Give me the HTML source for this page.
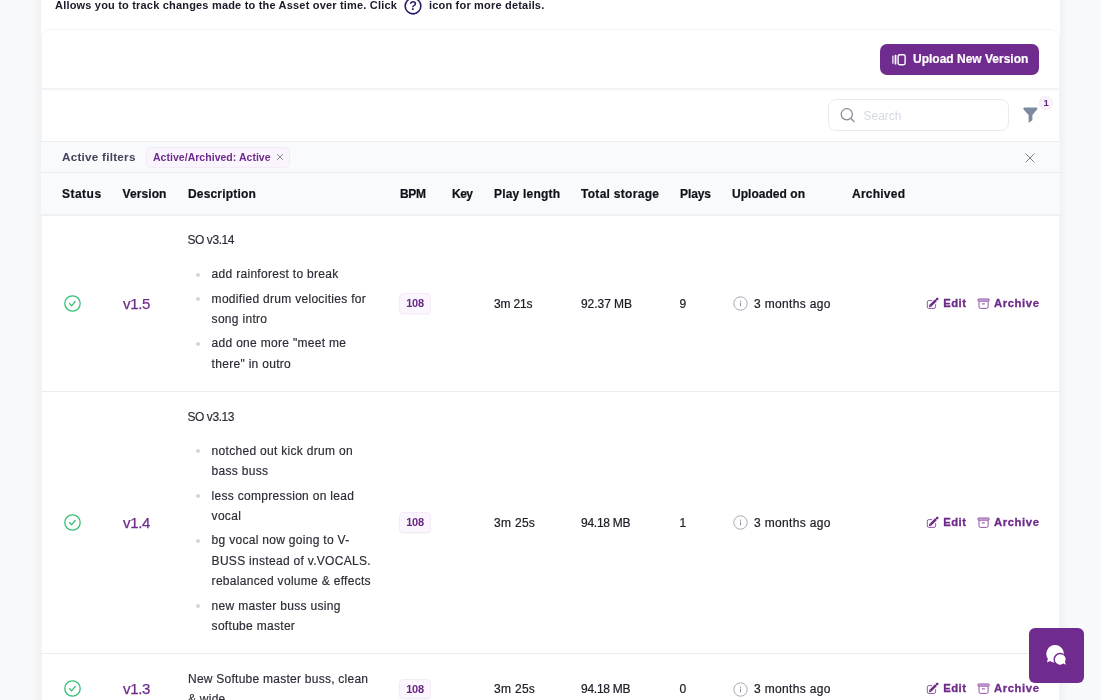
<!DOCTYPE html>
<html lang="en">
<head>
<meta charset="utf-8">
<title>Asset versions</title>
<style>
*{box-sizing:border-box}
html,body{margin:0;padding:0}
body{width:1101px;height:700px;overflow:hidden;position:relative;background:#f8f9fb;
  font-family:"Liberation Sans",sans-serif;font-size:12px;color:#24242e;line-height:20.4px}
.abs{position:absolute}
.panel{position:absolute;left:41px;top:-20px;width:1019px;height:760px;background:#fff;box-shadow:0 0 9px 1px rgba(60,64,76,.07)}
.in{position:absolute;left:0;top:20px;width:1019px;height:700px;will-change:transform}
.card{position:absolute;left:0;top:29px;width:1019px;height:700px;border:1px solid #f3f4f6;border-radius:9px 9px 0 0}
.hl{position:absolute;left:0;width:1019px;height:1px;background:#ececef}
.hl2{height:2px;background:#f3f3f5}
.band{position:absolute;left:0;width:1019px;background:#f9fafc}
.t{position:absolute;white-space:nowrap;line-height:14px;height:14px;margin-top:-7px}
.b{font-weight:700}
.c{color:#1c1c26;-webkit-text-stroke:.22px #1c1c26}
.intro{font-size:11px;font-weight:700;color:#1a1a28;letter-spacing:.19px}
.th{font-size:12px;font-weight:700;color:#111119;-webkit-text-stroke:.2px #111119;top:194px}
.pur{color:#7a2c8f}
.ver{font-size:15px;color:#6e2a8a;-webkit-text-stroke:.25px #6e2a8a;letter-spacing:-.35px;line-height:18px;height:18px;margin-top:-8.9px}
.chip{position:absolute;left:358.3px;width:31.6px;height:20.3px;margin-top:-10.3px;border:1px solid #f3ecf6;background:#fbf6fd;border-radius:4px;
  font-size:11px;font-weight:700;color:#672683;text-align:center;line-height:18.6px;letter-spacing:-.2px;box-shadow:0 1px 1px rgba(90,40,110,.04)}
.desc{position:absolute;left:147px;width:200px;color:#2c2c38;-webkit-text-stroke:.18px #2c2c38}
.desc p{margin:0 0 13.9px -.6px;letter-spacing:-.42px}
.desc ul{margin:0;padding:0;list-style:none}
.desc li{position:relative;padding-left:23.6px;margin:0 0 4px 0;letter-spacing:.3px}
.desc li:before{content:"";position:absolute;left:8px;top:8.5px;width:4px;height:4px;border-radius:50%;background:#d4d5d9}
.act{font-size:11.3px;font-weight:700;color:#6e2a8a;-webkit-text-stroke:.3px #6e2a8a;margin-top:-7.9px}
svg{position:absolute;overflow:visible}
</style>
</head>
<body>
<div class="panel"><div class="in">
  <div class="card"></div>

  <!-- intro line -->
  <div class="t intro" style="left:14px;top:5px">Allows you to track changes made to the Asset over time. Click</div>
  <svg style="left:362.8px;top:-3.3px" width="18" height="18" viewBox="0 0 18 18"><circle cx="9" cy="9" r="7.85" fill="none" stroke="#2b1866" stroke-width="1.6"/><text x="9" y="13.3" text-anchor="middle" font-family="Liberation Sans, sans-serif" font-size="12.5" font-weight="700" fill="#2b1866">?</text></svg>
  <div class="t intro" style="left:388px;top:5px">icon for more details.</div>

  <!-- upload button -->
  <div class="abs" style="left:839px;top:44px;width:159px;height:31px;border-radius:7px;background:#6f2b8d"></div>
  <svg style="left:851px;top:53.5px" width="14" height="12" viewBox="0 0 14 12"><rect x=".3" y="1.6" width="1.2" height="8.2" rx=".5" fill="#fff"/><rect x="2.6" y=".8" width="1.8" height="9.8" rx=".6" fill="#fff"/><rect x="6.1" y=".7" width="7" height="10" rx="1.6" fill="none" stroke="#fff" stroke-width="1.4"/></svg>
  <div class="t b" style="left:872px;top:58.9px;color:#fff;font-size:12px;-webkit-text-stroke:.2px #fff">Upload New Version</div>

  <div class="hl hl2" style="top:88px"></div>

  <!-- search -->
  <div class="abs" style="left:787px;top:99px;width:181px;height:32.4px;border:1px solid #e8eaee;border-radius:8px;background:#fff"></div>
  <svg style="left:799px;top:107px" width="16" height="16" viewBox="0 0 16 16"><circle cx="6.8" cy="7.3" r="5.6" fill="none" stroke="#878b96" stroke-width="1.25"/><path d="M10.9 11.4 L14 14.5" stroke="#878b96" stroke-width="1.3" stroke-linecap="round"/></svg>
  <div class="t" style="left:822.5px;top:115.6px;color:#d4d9e3;font-size:12px">Search</div>

  <!-- filter funnel + badge -->
  <svg style="left:982px;top:107px" width="15" height="17" viewBox="0 0 15 17"><path d="M1.6 .4 H13.1 Q14.5 .4 14.4 1.6 Q14.4 2.2 13.9 2.8 L9.4 8 V13.3 L5.6 15.8 V8 L.8 2.8 Q.3 2.2 .3 1.6 Q.2 .4 1.6 .4Z" fill="#7e8aa0"/></svg>
  <div class="abs" style="left:998.3px;top:96px;width:13.8px;height:13.8px;border-radius:50%;background:#faf5fc;border:1px solid #f1eaf5;color:#672683;font-size:9.6px;font-weight:700;text-align:center;line-height:12.3px">1</div>

  <div class="hl" style="top:141px"></div>
  <div class="band" style="top:142px;height:73px"></div>

  <!-- active filters row -->
  <div class="t b" style="left:21px;top:157px;font-size:11.7px;color:#40445a;letter-spacing:.25px;line-height:16px;height:16px;margin-top:-8.3px">Active filters</div>
  <div class="abs" style="left:105px;top:147px;width:144px;height:21px;border-radius:5px;background:#faf5fc;border:1px solid #f3ecf6"></div>
  <div class="t b" style="left:112px;top:157.3px;font-size:10.5px;color:#6e2a8a;letter-spacing:.03px">Active/Archived: Active</div>
  <svg style="left:235px;top:153px" width="8" height="8" viewBox="0 0 8 8"><path d="M1 1 L7 7 M7 1 L1 7" stroke="#8b8f99" stroke-width="1" fill="none"/></svg>
  <svg style="left:984px;top:152.5px" width="10" height="10" viewBox="0 0 10 10"><path d="M.6 .6 L9.4 9.4 M9.4 .6 L.6 9.4" stroke="#7d818b" stroke-width="1" fill="none"/></svg>

  <div class="hl" style="top:172px"></div>

  <!-- table header -->
  <div class="t th" style="left:21px;letter-spacing:.48px">Status</div>
  <div class="t th" style="left:81.5px;letter-spacing:.1px">Version</div>
  <div class="t th" style="left:147px;letter-spacing:.17px">Description</div>
  <div class="t th" style="left:359px;letter-spacing:-.3px">BPM</div>
  <div class="t th" style="left:411px;letter-spacing:-.5px">Key</div>
  <div class="t th" style="left:453px;letter-spacing:.2px">Play length</div>
  <div class="t th" style="left:540px;letter-spacing:.29px">Total storage</div>
  <div class="t th" style="left:639px;letter-spacing:-.09px">Plays</div>
  <div class="t th" style="left:691px;letter-spacing:.03px">Uploaded on</div>
  <div class="t th" style="left:811px;letter-spacing:.23px">Archived</div>

  <div class="hl hl2" style="top:214px;background:#f0f0f3"></div>

  <!-- ROW 1 -->
  <div class="desc" style="top:229.8px">
    <p>SO v3.14</p>
    <ul>
      <li>add rainforest to break</li>
      <li>modified drum velocities for<br>song intro</li>
      <li>add one more "meet me<br>there" in outro</li>
    </ul>
  </div>
  <div class="hl" style="top:391px"></div>

  <!-- ROW 2 -->
  <div class="desc" style="top:406.5px">
    <p>SO v3.13</p>
    <ul>
      <li>notched out kick drum on<br>bass buss</li>
      <li>less compression on lead<br>vocal</li>
      <li>bg vocal now going to V-<br>BUSS instead of v.VOCALS.<br>rebalanced volume &amp; effects</li>
      <li>new master buss using<br>softube master</li>
    </ul>
  </div>
  <div class="hl" style="top:653px"></div>

  <!-- ROW 3 -->
  <div class="desc" style="top:668.7px">
    <p style="letter-spacing:.25px;margin:0">New Softube master buss, clean<br>&amp; wide</p>
  </div>

<!--ROWS-->
  <svg style="left:22.5px;top:295.0px" width="17" height="17" viewBox="0 0 17 17"><circle cx="8.5" cy="8.5" r="7.7" fill="none" stroke="#36bf74" stroke-width="1.3"/><path d="M5.6 8.6 L7.6 10.8 L11.2 6.5" fill="none" stroke="#36bf74" stroke-width="1.3" stroke-linecap="round" stroke-linejoin="round"/></svg>
  <div class="t ver" style="left:82px;top:303.5px">v1.5</div>
  <div class="chip" style="top:303.5px">108</div>
  <div class="t c" style="left:453px;top:303.5px;letter-spacing:-0.15px">3m 21s</div>
  <div class="t c" style="left:540px;top:303.5px;letter-spacing:-0.05px">92.37 MB</div>
  <div class="t c" style="left:638.5px;top:303.5px">9</div>
  <svg style="left:692px;top:296.3px" width="15" height="15" viewBox="0 0 15 15"><circle cx="7.5" cy="7.5" r="6.7" fill="none" stroke="#a4a7b0" stroke-width=".95"/><path d="M7.5 7 V9.9" stroke="#8f929b" stroke-width="1" stroke-linecap="round"/><circle cx="7.5" cy="5.2" r=".65" fill="#8f929b"/></svg>
  <div class="t c" style="left:713px;top:303.5px;letter-spacing:.33px">3 months ago</div>
  <svg style="left:884.5px;top:297.0px" width="13" height="12" viewBox="0 0 13 12"><path d="M5.7 3.6 H2.9 Q1.3 3.6 1.3 5.2 V9.8 Q1.3 11.4 2.9 11.4 H8 Q9.6 11.4 9.6 9.8 V7.6" fill="none" stroke="#8d4ba3" stroke-width=".95" stroke-linecap="round"/><path d="M4.5 8.6 L10 3.1" stroke="#6e2a8a" stroke-width="2.7" fill="none"/><path d="M2.9 10.2 L3.4 7.5 L5.6 9.7Z" fill="#6e2a8a"/><path d="M10.95 2.15 L11.3 1.8" stroke="#6e2a8a" stroke-width="2.5" stroke-linecap="round" fill="none"/></svg>
  <div class="t act" style="letter-spacing:.5px;left:902.2px;top:303.5px">Edit</div>
  <svg style="left:935.5px;top:297.5px" width="13" height="12" viewBox="0 0 13 12"><rect x=".9" y=".9" width="11.3" height="2.4" rx=".7" fill="#cba6d7" stroke="#8d4ba3" stroke-width=".8"/><path d="M2 3.5 V8.9 Q2 10.4 3.5 10.4 H9.6 Q11.1 10.4 11.1 8.9 V3.5" fill="none" stroke="#8d4ba3" stroke-width=".95"/><path d="M5.2 5.9 H7.5" stroke="#8d4ba3" stroke-width="1" stroke-linecap="round"/></svg>
  <div class="t act" style="letter-spacing:.58px;left:953px;top:303.5px">Archive</div>
  <svg style="left:22.5px;top:514.1px" width="17" height="17" viewBox="0 0 17 17"><circle cx="8.5" cy="8.5" r="7.7" fill="none" stroke="#36bf74" stroke-width="1.3"/><path d="M5.6 8.6 L7.6 10.8 L11.2 6.5" fill="none" stroke="#36bf74" stroke-width="1.3" stroke-linecap="round" stroke-linejoin="round"/></svg>
  <div class="t ver" style="left:82px;top:522.6px">v1.4</div>
  <div class="chip" style="top:522.6px">108</div>
  <div class="t c" style="left:453px;top:522.6px;letter-spacing:0.3px">3m 25s</div>
  <div class="t c" style="left:540px;top:522.6px;letter-spacing:-0.25px">94.18 MB</div>
  <div class="t c" style="left:638.5px;top:522.6px">1</div>
  <svg style="left:692px;top:515.4px" width="15" height="15" viewBox="0 0 15 15"><circle cx="7.5" cy="7.5" r="6.7" fill="none" stroke="#a4a7b0" stroke-width=".95"/><path d="M7.5 7 V9.9" stroke="#8f929b" stroke-width="1" stroke-linecap="round"/><circle cx="7.5" cy="5.2" r=".65" fill="#8f929b"/></svg>
  <div class="t c" style="left:713px;top:522.6px;letter-spacing:.33px">3 months ago</div>
  <svg style="left:884.5px;top:516.1px" width="13" height="12" viewBox="0 0 13 12"><path d="M5.7 3.6 H2.9 Q1.3 3.6 1.3 5.2 V9.8 Q1.3 11.4 2.9 11.4 H8 Q9.6 11.4 9.6 9.8 V7.6" fill="none" stroke="#8d4ba3" stroke-width=".95" stroke-linecap="round"/><path d="M4.5 8.6 L10 3.1" stroke="#6e2a8a" stroke-width="2.7" fill="none"/><path d="M2.9 10.2 L3.4 7.5 L5.6 9.7Z" fill="#6e2a8a"/><path d="M10.95 2.15 L11.3 1.8" stroke="#6e2a8a" stroke-width="2.5" stroke-linecap="round" fill="none"/></svg>
  <div class="t act" style="letter-spacing:.5px;left:902.2px;top:522.6px">Edit</div>
  <svg style="left:935.5px;top:516.6px" width="13" height="12" viewBox="0 0 13 12"><rect x=".9" y=".9" width="11.3" height="2.4" rx=".7" fill="#cba6d7" stroke="#8d4ba3" stroke-width=".8"/><path d="M2 3.5 V8.9 Q2 10.4 3.5 10.4 H9.6 Q11.1 10.4 11.1 8.9 V3.5" fill="none" stroke="#8d4ba3" stroke-width=".95"/><path d="M5.2 5.9 H7.5" stroke="#8d4ba3" stroke-width="1" stroke-linecap="round"/></svg>
  <div class="t act" style="letter-spacing:.58px;left:953px;top:522.6px">Archive</div>
  <svg style="left:22.5px;top:680.3px" width="17" height="17" viewBox="0 0 17 17"><circle cx="8.5" cy="8.5" r="7.7" fill="none" stroke="#36bf74" stroke-width="1.3"/><path d="M5.6 8.6 L7.6 10.8 L11.2 6.5" fill="none" stroke="#36bf74" stroke-width="1.3" stroke-linecap="round" stroke-linejoin="round"/></svg>
  <div class="t ver" style="left:82px;top:688.8px">v1.3</div>
  <div class="chip" style="top:688.8px">108</div>
  <div class="t c" style="left:453px;top:688.8px;letter-spacing:0.3px">3m 25s</div>
  <div class="t c" style="left:540px;top:688.8px;letter-spacing:-0.25px">94.18 MB</div>
  <div class="t c" style="left:638.5px;top:688.8px">0</div>
  <svg style="left:692px;top:681.6px" width="15" height="15" viewBox="0 0 15 15"><circle cx="7.5" cy="7.5" r="6.7" fill="none" stroke="#a4a7b0" stroke-width=".95"/><path d="M7.5 7 V9.9" stroke="#8f929b" stroke-width="1" stroke-linecap="round"/><circle cx="7.5" cy="5.2" r=".65" fill="#8f929b"/></svg>
  <div class="t c" style="left:713px;top:688.8px;letter-spacing:.33px">3 months ago</div>
  <svg style="left:884.5px;top:682.3px" width="13" height="12" viewBox="0 0 13 12"><path d="M5.7 3.6 H2.9 Q1.3 3.6 1.3 5.2 V9.8 Q1.3 11.4 2.9 11.4 H8 Q9.6 11.4 9.6 9.8 V7.6" fill="none" stroke="#8d4ba3" stroke-width=".95" stroke-linecap="round"/><path d="M4.5 8.6 L10 3.1" stroke="#6e2a8a" stroke-width="2.7" fill="none"/><path d="M2.9 10.2 L3.4 7.5 L5.6 9.7Z" fill="#6e2a8a"/><path d="M10.95 2.15 L11.3 1.8" stroke="#6e2a8a" stroke-width="2.5" stroke-linecap="round" fill="none"/></svg>
  <div class="t act" style="letter-spacing:.5px;left:902.2px;top:688.8px">Edit</div>
  <svg style="left:935.5px;top:682.8px" width="13" height="12" viewBox="0 0 13 12"><rect x=".9" y=".9" width="11.3" height="2.4" rx=".7" fill="#cba6d7" stroke="#8d4ba3" stroke-width=".8"/><path d="M2 3.5 V8.9 Q2 10.4 3.5 10.4 H9.6 Q11.1 10.4 11.1 8.9 V3.5" fill="none" stroke="#8d4ba3" stroke-width=".95"/><path d="M5.2 5.9 H7.5" stroke="#8d4ba3" stroke-width="1" stroke-linecap="round"/></svg>
  <div class="t act" style="letter-spacing:.58px;left:953px;top:688.8px">Archive</div>
<!--/ROWS-->
</div></div>

<!-- chat widget -->
<div class="abs" style="left:1029px;top:628px;width:55px;height:55px;border-radius:6px;background:#6f2b8d"></div>
<svg style="left:1044px;top:642px" width="26" height="26" viewBox="0 0 26 26">
  <path d="M11.2 3.1 a8.7 8.7 0 1 1 -5.1 15.8 L2.9 20.5 L3.9 16.7 A8.7 8.7 0 0 1 11.2 3.1Z" fill="#fff"/>
  <circle cx="16.1" cy="17.4" r="6.6" fill="#6f2b8d"/>
  <path d="M16.1 12.3 a5.2 5.2 0 1 0 3.2 9.3 L21.9 22.8 L21 20.2 A5.2 5.2 0 0 0 16.1 12.3Z" fill="#fff"/>
</svg>
</body>
</html>
